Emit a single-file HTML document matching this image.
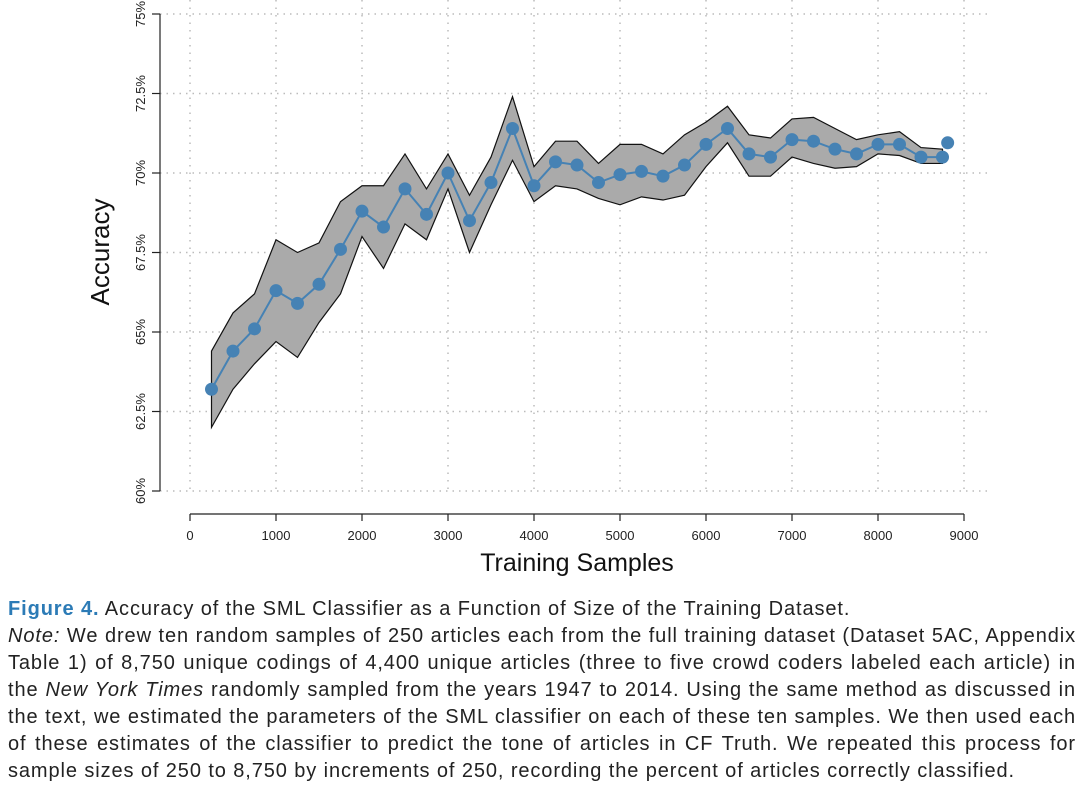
<!DOCTYPE html>
<html><head><meta charset="utf-8"><style>
body{margin:0;background:#fff;width:1080px;height:799px;overflow:hidden;font-family:"Liberation Sans",sans-serif}
#cap{position:absolute;left:8px;top:596px;width:1068px;font-size:20px;line-height:27px;color:#222;letter-spacing:0.9px}
#cap div{white-space:nowrap;text-align:justify;text-align-last:justify}
#cap div.l{text-align-last:left}
#cap b{color:#2c7bb6}
</style></head><body>
<svg width="1080" height="590" style="position:absolute;left:0;top:0" id="chart"></svg>
<div id="cap">
<div class="l"><b>Figure 4.</b> Accuracy of the SML Classifier as a Function of Size of the Training Dataset.</div>
<div><i>Note:</i> We drew ten random samples of 250 articles each from the full training dataset (Dataset 5AC, Appendix</div>
<div>Table 1) of 8,750 unique codings of 4,400 unique articles (three to five crowd coders labeled each article) in</div>
<div>the <i>New York Times</i> randomly sampled from the years 1947 to 2014. Using the same method as discussed in</div>
<div>the text, we estimated the parameters of the SML classifier on each of these ten samples. We then used each</div>
<div>of these estimates of the classifier to predict the tone of articles in CF Truth. We repeated this process for</div>
<div class="l">sample sizes of 250 to 8,750 by increments of 250, recording the percent of articles correctly classified.</div>
</div>
<script>
const samples=[250,500,750,1000,1250,1500,1750,2000,2250,2500,2750,3000,3250,3500,3750,4000,4250,4500,4750,5000,5250,5500,5750,6000,6250,6500,6750,7000,7250,7500,7750,8000,8250,8500,8750];
const accuracy=[63.2,64.4,65.1,66.3,65.9,66.5,67.6,68.8,68.3,69.5,68.7,70.0,68.5,69.7,71.4,69.6,70.35,70.25,69.7,69.95,70.05,69.9,70.25,70.9,71.4,70.6,70.5,71.05,71.0,70.75,70.6,70.9,70.9,70.5,70.5];
const upper=[64.4,65.6,66.2,67.9,67.5,67.8,69.1,69.6,69.6,70.6,69.5,70.6,69.3,70.5,72.4,70.2,71.0,71.0,70.3,70.9,70.9,70.6,71.2,71.6,72.1,71.2,71.1,71.7,71.75,71.4,71.05,71.2,71.3,70.8,70.75];
const lower=[62.0,63.2,64.0,64.7,64.2,65.3,66.2,68.0,67.0,68.4,67.9,69.5,67.5,69.0,70.4,69.1,69.6,69.5,69.2,69.0,69.25,69.15,69.3,70.2,70.95,69.9,69.9,70.5,70.3,70.15,70.2,70.6,70.55,70.3,70.3];
const extraPoint=[8810,70.95];
const yTicks=[60,62.5,65,67.5,70,72.5,75];
const yTickLabels=["60%","62.5%","65%","67.5%","70%","72.5%","75%"];
const xTicks=[0,1000,2000,3000,4000,5000,6000,7000,8000,9000];
const X=v=>190+v*0.0860;
const Y=v=>491-(v-60)*31.8;
const svg=document.getElementById('chart');const NS='http://www.w3.org/2000/svg';
function mk(t,a,p){const e=document.createElementNS(NS,t);for(const k in a)e.setAttribute(k,a[k]);(p||svg).appendChild(e);return e;}
yTicks.forEach(v=>{const g=mk('line',{x1:160,x2:990,y1:Y(v),y2:Y(v),stroke:'#bbb','stroke-dasharray':'1.5 5','stroke-width':1.5});

});
xTicks.forEach(v=>{const g=mk('line',{x1:X(v),x2:X(v),y1:0,y2:491,stroke:'#bbb','stroke-dasharray':'1.5 6','stroke-width':1.5});

});
let pts=samples.map((s,i)=>X(s)+','+Y(upper[i])).concat(samples.map((s,i)=>X(s)+','+Y(lower[i])).reverse());
const band=mk('polygon',{points:pts.join(' '),fill:'#aaaaaa',stroke:'#111','stroke-width':1.2});


const line=mk('polyline',{points:samples.map((s,i)=>X(s)+','+Y(accuracy[i])).join(' '),fill:'none',stroke:'#4682b4','stroke-width':2});


samples.forEach((s,i)=>{const c=mk('circle',{cx:X(s),cy:Y(accuracy[i]),r:6.5,fill:'#4682b4'});

});
const ep=mk('circle',{cx:X(extraPoint[0]),cy:Y(extraPoint[1]),r:6.5,fill:'#4682b4'});


const ya=mk('line',{x1:160,x2:160,y1:Y(60),y2:Y(75),stroke:'#222','stroke-width':1.2});


yTicks.forEach((v,i)=>{mk('line',{x1:152,x2:160,y1:Y(v),y2:Y(v),stroke:'#222','stroke-width':1.2});
const t=mk('text',{x:0,y:0,transform:`translate(145,${Y(v)}) rotate(-90)`,'text-anchor':'middle','font-size':13,fill:'#222'});t.textContent=yTickLabels[i];

});
const xa=mk('line',{x1:X(0),x2:X(9000),y1:514,y2:514,stroke:'#222','stroke-width':1.2});


xTicks.forEach(v=>{mk('line',{x1:X(v),x2:X(v),y1:514,y2:521,stroke:'#222','stroke-width':1.2});
const t=mk('text',{x:X(v),y:540,'text-anchor':'middle','font-size':13,fill:'#222'});t.textContent=v;

});
const xt=mk('text',{x:577,y:571,'text-anchor':'middle','font-size':25,fill:'#111'});xt.textContent='Training Samples';


const yt=mk('text',{x:0,y:0,transform:'translate(109,252) rotate(-90)','text-anchor':'middle','font-size':26,fill:'#111'});yt.textContent='Accuracy';


</script>
</body></html>
